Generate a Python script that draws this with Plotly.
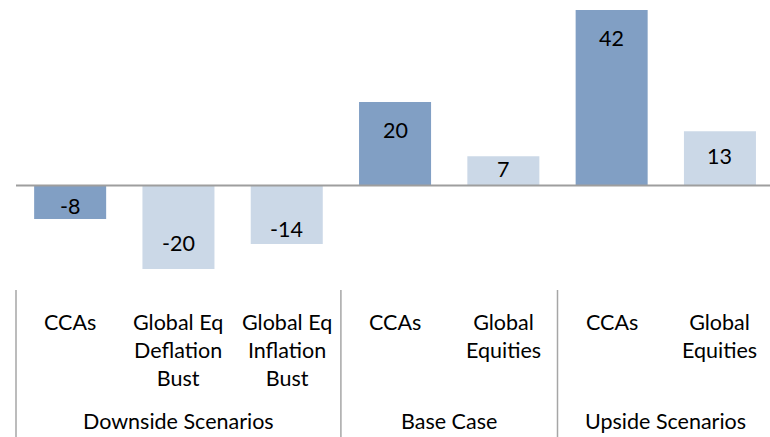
import plotly.graph_objects as go

categories = ["CCAs", "Global Eq<br>Deflation<br>Bust", "Global Eq<br>Inflation<br>Bust",
              "CCAs", "Global<br>Equities", "CCAs", "Global<br>Equities"]
values = [-8, -20, -14, 20, 7, 42, 13]
groups = ["Downside Scenarios", "Base Case", "Upside Scenarios"]
group_spans = [(0, 2), (3, 4), (5, 6)]

DARK = "#819FC4"
LIGHT = "#CBD8E7"
bar_colors = [DARK, LIGHT, LIGHT, DARK, LIGHT, DARK, LIGHT]
label_offsets = [13, 26, 15, 28, 13, 28, 25]  # px from bar end to label centre

FONT = "Lato"
FS = 21.5
W, H = 770, 437

x = list(range(len(values)))
fig = go.Figure()
fig.add_trace(go.Bar(x=x, y=values, marker=dict(color=bar_colors, line=dict(width=0)),
                     width=0.665, hoverinfo="skip"))

annotations = []
for xi, v, off in zip(x, values, label_offsets):
    annotations.append(dict(x=xi, y=v, xref="x", yref="y", text=str(v), showarrow=False,
                            yanchor="middle", yshift=(-off if v > 0 else off),
                            font=dict(family=FONT, size=FS, color="#000000")))

def py(p):
    return 1 - p / H

for xi, c in zip(x, categories):
    annotations.append(dict(x=xi, y=py(307), xref="x", yref="paper", text=c, showarrow=False,
                            yanchor="top", align="center",
                            font=dict(family=FONT, size=FS, color="#000000")))
for g, (a, b) in zip(groups, group_spans):
    annotations.append(dict(x=(a + b) / 2, y=py(421), xref="x", yref="paper", text=g,
                            showarrow=False, yanchor="middle",
                            font=dict(family=FONT, size=FS, color="#000000")))

shapes = [dict(type="line", xref="x", yref="y", x0=-0.5, x1=6.6, y0=0, y1=0,
               line=dict(color="#9E9E9E", width=2))]
for sep in [-0.5, 2.5, 4.5]:
    shapes.append(dict(type="line", xref="x", yref="paper", x0=sep, x1=sep,
                       y0=0, y1=py(290), line=dict(color="#A6A6A6", width=1.5)))

px_per_cat = 108.3
x0 = -0.5 - 16 / px_per_cat
x1 = -0.5 + (W - 16) / px_per_cat
ppu = 175.5 / 42
ymax = 42 + 10 / ppu
ymin = -(H - 185.5) / ppu

fig.update_layout(
    width=W, height=H, margin=dict(l=0, r=0, t=0, b=0),
    paper_bgcolor="white", plot_bgcolor="white", showlegend=False,
    xaxis=dict(range=[x0, x1], visible=False, fixedrange=True),
    yaxis=dict(range=[ymin, ymax], visible=False, fixedrange=True),
    annotations=annotations, shapes=shapes,
)
fig.write_html("out.html", config={"displayModeBar": False},
               post_script="document.body.style.margin='0';document.body.style.overflow='hidden';")
